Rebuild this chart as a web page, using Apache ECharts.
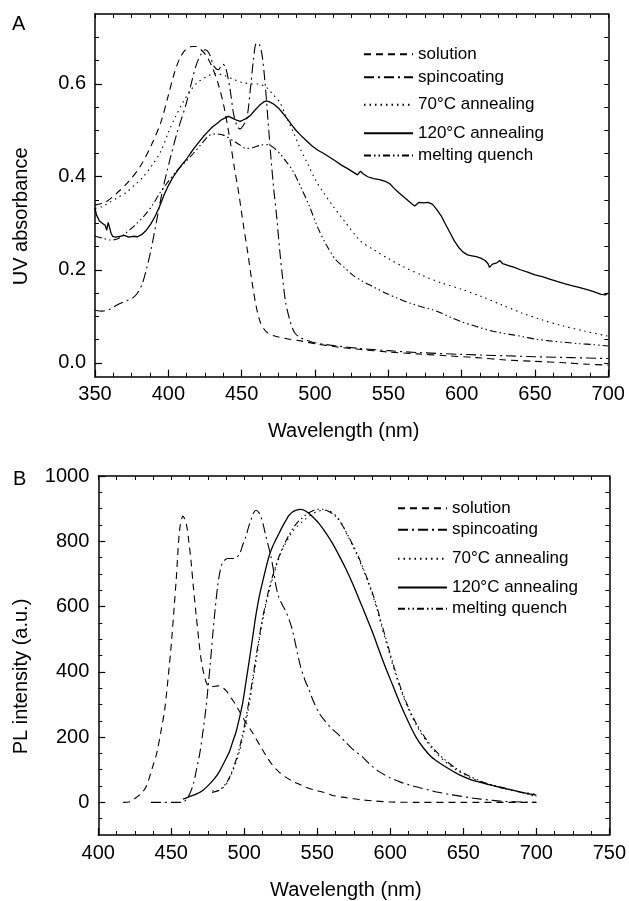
<!DOCTYPE html>
<html><head><meta charset="utf-8">
<script src="https://cdn.jsdelivr.net/npm/echarts@6/dist/echarts.min.js"></script>
<style>html,body{margin:0;padding:0;background:#fff}#c{width:629px;height:901px}</style>
</head><body><div id="c"></div>
<script>
// ---------- data ----------
const seriesNames = ['solution', 'spincoating', '70°C annealing', '120°C annealing', 'melting quench'];

// Panel A: UV absorbance [wavelength nm, absorbance]
const uvSolution = [[350,0.339],[357,0.345],[365,0.365],[373,0.390],[381,0.423],[389,0.472],[395,0.518],[400,0.575],[404,0.622],[408,0.656],[412,0.674],[416,0.680],[419,0.680],[422,0.674],[426,0.660],[430,0.635],[434,0.600],[438,0.550],[442,0.480],[445,0.420],[448,0.365],[451,0.300],[454,0.240],[457,0.175],[460,0.120],[463,0.085],[467,0.066],[472,0.058],[480,0.052],[490,0.047],[500,0.041],[515,0.034],[530,0.029],[550,0.023],[570,0.019],[590,0.015],[610,0.011],[630,0.006],[650,0.003],[670,0.000],[685,-0.003],[700,-0.005]];
const uvSpin = [[350,0.113],[355,0.111],[360,0.115],[365,0.124],[372,0.134],[376,0.140],[379,0.150],[382,0.168],[385,0.200],[388,0.240],[392,0.305],[396,0.370],[401,0.436],[406,0.495],[412,0.555],[416,0.605],[419,0.640],[422,0.662],[425,0.673],[428,0.664],[431,0.638],[434,0.630],[437,0.642],[439,0.636],[442,0.590],[444.5,0.535],[447,0.508],[449,0.503],[451,0.510],[453.5,0.525],[456,0.590],[458,0.650],[460,0.687],[462,0.685],[464,0.660],[466,0.600],[468,0.520],[470,0.440],[472,0.370],[474,0.310],[476,0.240],[478,0.180],[480,0.130],[483,0.090],[486,0.065],[490,0.054],[495,0.048],[500,0.043],[515,0.036],[530,0.031],[550,0.026],[570,0.022],[600,0.018],[630,0.015],[650,0.013],[675,0.011],[700,0.009]];
const uv70 = [[350,0.332],[355,0.336],[360,0.345],[366,0.356],[372,0.368],[378,0.385],[383,0.400],[389,0.425],[395,0.455],[400,0.495],[405,0.530],[410,0.560],[415,0.585],[420,0.603],[426,0.615],[432,0.622],[438,0.618],[444,0.610],[450,0.603],[456,0.600],[462,0.599],[467,0.592],[471,0.578],[476,0.560],[480,0.532],[485,0.498],[490,0.460],[495,0.428],[500,0.395],[506,0.365],[512.5,0.336],[520,0.305],[531,0.262],[540,0.243],[550,0.224],[560,0.207],[573,0.188],[586,0.172],[600,0.158],[613,0.143],[627,0.125],[641,0.107],[655,0.092],[668,0.080],[684,0.068],[700,0.057]];
const uv120 = [[350,0.332],[351,0.318],[353,0.305],[355,0.300],[357,0.295],[358,0.285],[359,0.302],[360,0.300],[361,0.278],[362,0.272],[364,0.270],[367,0.272],[370,0.274],[373,0.270],[376,0.272],[379,0.271],[382,0.276],[385,0.285],[388,0.298],[391,0.315],[394,0.336],[397,0.360],[400,0.381],[403,0.398],[406,0.412],[409,0.425],[412,0.436],[415,0.450],[418,0.463],[421,0.475],[424,0.487],[427,0.497],[430,0.507],[433,0.514],[436,0.522],[439,0.527],[441,0.530],[443,0.527],[445,0.524],[447,0.521],[449,0.519],[451,0.522],[453,0.525],[456,0.532],[459,0.543],[462,0.553],[465,0.561],[467,0.563],[469,0.561],[472,0.556],[475,0.548],[478,0.537],[481,0.525],[484,0.512],[487,0.500],[490,0.490],[494,0.478],[498,0.466],[502,0.457],[506,0.450],[510,0.442],[514,0.434],[518,0.425],[522,0.418],[526,0.410],[529,0.404],[531,0.412],[533,0.406],[536,0.400],[540,0.396],[544,0.394],[548,0.390],[551,0.385],[554,0.375],[557,0.366],[560,0.358],[563,0.350],[566,0.342],[568,0.337],[571,0.345],[574,0.344],[577,0.345],[580,0.341],[583,0.330],[586,0.316],[589,0.298],[592,0.280],[595,0.262],[598,0.248],[601,0.238],[604,0.232],[607,0.230],[610,0.228],[613,0.225],[616,0.220],[618,0.213],[619,0.205],[621,0.212],[624,0.215],[626,0.220],[628,0.213],[632,0.209],[636,0.205],[640,0.200],[645,0.195],[650,0.189],[655,0.185],[660,0.180],[665,0.175],[670,0.170],[675,0.166],[680,0.162],[685,0.158],[690,0.153],[695,0.147],[698,0.146],[700,0.150]];
const uvMelt = [[350,0.272],[355,0.268],[360,0.264],[365,0.266],[371,0.279],[377,0.295],[383,0.314],[389,0.338],[394,0.364],[400,0.390],[406,0.414],[412,0.433],[417,0.450],[423,0.472],[428,0.489],[433,0.492],[438,0.489],[444,0.478],[449,0.468],[453,0.461],[458,0.463],[463,0.468],[468,0.469],[472,0.462],[476,0.450],[481,0.430],[485,0.412],[490,0.380],[496,0.338],[502,0.290],[508,0.252],[514,0.222],[520,0.205],[526,0.188],[532,0.176],[540,0.163],[548,0.150],[556,0.139],[565,0.128],[573,0.120],[580,0.114],[586,0.107],[593,0.097],[600,0.088],[607,0.081],[613,0.075],[620,0.069],[627,0.064],[635,0.060],[642,0.056],[650,0.051],[660,0.047],[670,0.044],[680,0.041],[690,0.039],[700,0.036]];

// Panel B: PL intensity [wavelength nm, a.u.]
const plSolution = [[417,0],[422,2],[426,15],[430,30],[433,50],[437,106],[440,150],[443,220],[445.5,285],[448,390],[450,485],[452,600],[453.4,685],[455.7,835],[458,877],[460.2,855],[462,800],[463.6,735],[465,665],[467,575],[469,490],[470.5,435],[472.5,390],[475,358],[478,355],[482,357],[485,352],[488,340],[491,320],[494,300],[498,268],[501,245],[505,218],[508,195],[512,165],[516,135],[520,110],[524,92],[528,78],[533,65],[538,55],[542,47],[548,38],[555,30],[560,22],[567,16],[575,11],[580,8],[590,4],[600,1],[620,0],[650,0],[700,0]];
const plSpin = [[436,0],[445,0],[452,0],[458,0],[460,8],[462.5,25],[465,55],[467,95],[469.5,150],[471.6,215],[473.5,280],[475,345],[476.8,430],[478.4,515],[480,590],[481.8,665],[483.5,710],[485.2,735],[488.6,747],[493.2,747],[496.6,760],[499,790],[501.1,815],[503,845],[504.5,865],[506.5,888],[508,895],[510,888],[511.4,875],[513,850],[514.8,815],[516.5,785],[518.2,755],[520,710],[521.6,665],[523.5,630],[526.1,605],[528.5,585],[530.7,560],[532.5,535],[534.1,505],[536.5,455],[538.6,415],[541.5,375],[544.3,345],[547.5,308],[551.1,275],[555.5,248],[560.2,225],[565,205],[569.3,185],[575,160],[580.7,140],[586,117],[592,95],[600,75],[607,62],[614,52],[620,45],[627,37],[634,30],[641,24],[648,19],[655,14],[662,10],[670,6],[678,3],[690,1],[700,0]];
const pl70 = [[478,35],[483,37],[487.5,55],[490,75],[492,95],[494.5,125],[496.6,155],[499,200],[501.1,245],[503.5,305],[505.7,365],[508,430],[510.2,495],[512.5,555],[514.8,605],[517,648],[519.3,685],[521.6,720],[523.9,750],[526,773],[528.4,795],[530.7,813],[533,830],[536.5,847],[539.8,860],[543,872],[546.6,883],[550,891],[553.4,895],[556.5,895],[560.2,888],[563.5,875],[567,852],[570.5,820],[574,788],[577.5,755],[581,718],[584.5,678],[587.5,640],[591,590],[594,540],[598.5,470],[603.4,395],[608,335],[613,280],[618,235],[624,192],[630,158],[637,127],[645,100],[653,80],[662,63],[670,52],[680,40],[690,31],[700,25]];
const pl120 = [[458,10],[462,17],[467,25],[472,38],[476,55],[480,75],[483,95],[486.5,125],[489.8,155],[492,185],[494.3,215],[496.5,255],[498.9,305],[501,365],[503.4,435],[505.7,505],[508,575],[510.2,630],[512.5,675],[514.8,718],[517,755],[519.3,783],[521.6,805],[524,826],[526.1,845],[528.4,863],[530.7,880],[533,890],[535.2,895],[538.6,898],[541,895],[544.3,885],[547.5,872],[551.1,855],[555.5,828],[560.2,795],[564.5,760],[569.3,718],[574,672],[578.4,625],[583,575],[587.5,525],[592,470],[597,410],[602,355],[607,300],[612,250],[617.6,200],[623,165],[628,140],[634,120],[640,103],[647,85],[655,70],[661,62],[667,55],[675,46],[685,36],[692,29],[700,22]];
const plMelt = [[478,30],[483,38],[487.5,58],[490,78],[492,100],[494.5,132],[496.6,165],[499,212],[501.1,258],[503.5,318],[505.7,378],[508,445],[510.2,505],[512.5,565],[514.8,612],[517,655],[519.3,692],[521.6,725],[523.9,755],[526,778],[528.4,800],[530.7,820],[533,838],[536.5,858],[539.8,872],[543,884],[546.6,893],[550,898],[553.4,898],[556.5,894],[560.2,885],[563.5,872],[567,850],[570.5,822],[574,792],[577.5,760],[581,722],[584.5,682],[587.5,645],[591,596],[594,548],[598.5,478],[603.4,402],[608,340],[613,285],[618,240],[624,197],[630,163],[637,132],[645,104],[653,83],[662,65],[670,53],[680,42],[690,30],[700,18]];

// tick values / labels
const uvYLabels = [0.0, 0.2, 0.4, 0.6];
const uvYMinor = [0.0,0.05,0.1,0.15,0.2,0.25,0.3,0.35,0.4,0.45,0.5,0.55,0.6,0.65,0.7];
const plYLabels = [0, 200, 400, 600, 800, 1000];
const plYMinor = [-50,0,50,100,150,200,250,300,350,400,450,500,550,600,650,700,750,800,850,900,950];

// ---------- styles ----------
const FONT = '"Liberation Sans", Arial, Helvetica, sans-serif';
const dashTypes = [[7,5], [10,4,2,4], [1.5,4], 'solid', [7,3,1.5,3,1.5,3]];
const lineW = 1.1;
const black = '#000';

const uvData = [uvSolution, uvSpin, uv70, uv120, uvMelt];
const plData = [plSolution, plSpin, pl70, pl120, plMelt];

function axisLineStyle() { return { show: true, onZero: false, lineStyle: { color: black, width: 1.5 } }; }

const xAxes = [];
const yAxes = [];
function buildPanel(g, xr, yr, yLabels, yMinor, yFmt, yName, yGap) {
  xAxes.push({
    gridIndex: g, type: 'value', min: xr[0], max: xr[1], interval: 50, position: 'bottom',
    axisLine: axisLineStyle(),
    axisTick: { show: true, inside: true, length: 7, lineStyle: { color: black, width: 1.2 } },
    minorTick: { show: true, splitNumber: 4, length: 4, lineStyle: { color: black, width: 1 } },
    axisLabel: { color: black, fontSize: 20, margin: 8, fontFamily: FONT },
    splitLine: { show: false },
    name: 'Wavelength (nm)', nameLocation: 'middle', nameGap: 45,
    nameTextStyle: { color: black, fontSize: 20, fontFamily: FONT, padding: [0, 16, 0, 0] }
  });
  xAxes.push({
    gridIndex: g, type: 'value', min: xr[0], max: xr[1], interval: 50, position: 'top',
    axisLine: axisLineStyle(),
    axisTick: { show: true, inside: true, length: 4, lineStyle: { color: black, width: 1 } },
    minorTick: { show: true, splitNumber: 4, length: 4, lineStyle: { color: black, width: 1 } },
    axisLabel: { show: false }, splitLine: { show: false }
  });
  yAxes.push({
    gridIndex: g, type: 'value', min: yr[0], max: yr[1], position: 'left',
    axisLine: axisLineStyle(),
    axisTick: { show: true, inside: true, length: 7, customValues: yLabels, lineStyle: { color: black, width: 1.2 } },
    axisLabel: { color: black, fontSize: 20, margin: 9, fontFamily: FONT, customValues: yLabels, formatter: yFmt },
    splitLine: { show: false },
    name: yName, nameLocation: 'middle', nameGap: yGap,
    nameTextStyle: { color: black, fontSize: 20, fontFamily: FONT, padding: [0, 42, 0, 0] }
  });
  yAxes.push({
    gridIndex: g, type: 'value', min: yr[0], max: yr[1], position: 'left',
    axisLine: { show: false, onZero: false },
    axisTick: { show: true, inside: true, length: 4, customValues: yMinor, lineStyle: { color: black, width: 1 } },
    axisLabel: { show: false }, splitLine: { show: false }
  });
  yAxes.push({
    gridIndex: g, type: 'value', min: yr[0], max: yr[1], position: 'right',
    axisLine: axisLineStyle(),
    axisTick: { show: true, inside: true, length: 4, customValues: yMinor, lineStyle: { color: black, width: 1 } },
    axisLabel: { show: false }, splitLine: { show: false }
  });
}
buildPanel(0, [350, 700], [-0.03, 0.75], uvYLabels, uvYMinor, v => Number(v).toFixed(1), 'UV absorbance', 64);
buildPanel(1, [400, 750], [-100, 1000], plYLabels, plYMinor, v => String(Math.round(v)), 'PL intensity (a.u.)', 67);

const series = [];
seriesNames.forEach((name, i) => {
  series.push({
    name, type: 'line', xAxisIndex: 0, yAxisIndex: 0, data: uvData[i],
    symbol: 'none', smooth: i === 3 ? false : 0.3, clip: true,
    itemStyle: { color: black },
    lineStyle: { color: black, width: i === 3 ? 1.3 : lineW, type: dashTypes[i] }
  });
  series.push({
    name, type: 'line', xAxisIndex: 2, yAxisIndex: 3, data: plData[i],
    symbol: 'none', smooth: 0.3, clip: true,
    itemStyle: { color: black },
    lineStyle: { color: black, width: i === 3 ? 1.3 : lineW, type: dashTypes[i] }
  });
});

const legendA = [52.7, 75.7, 103.3, 131.7, 154];
const legendB = [506.7, 528.3, 557.3, 586, 607.3];
const legends = [];
seriesNames.forEach((name, i) => {
  [[363, legendA[i]], [397, legendB[i]]].forEach(([lx, ly]) => {
    legends.push({
      data: [name], left: lx, top: ly - 7, padding: 0, itemWidth: 49, itemHeight: 14,
      selectedMode: false,
      itemStyle: { opacity: 0 },
      textStyle: { color: black, fontSize: 17, fontFamily: FONT }
    });
  });
});

const chart = echarts.init(document.getElementById('c'), null, { renderer: 'canvas' });
chart.setOption({
  animation: false,
  backgroundColor: '#fff',
  title: [
    { text: 'A', left: 12, top: 14, padding: 0, textStyle: { fontSize: 20, fontWeight: 'normal', color: black, fontFamily: FONT } },
    { text: 'B', left: 13, top: 469, padding: 0, textStyle: { fontSize: 20, fontWeight: 'normal', color: black, fontFamily: FONT } }
  ],
  grid: [
    { left: 95, top: 14, width: 513.3, height: 362.7 },
    { left: 98.3, top: 476, width: 513.4, height: 365.7 }
  ],
  legend: legends,
  xAxis: xAxes,
  yAxis: yAxes,
  series
});
</script>
</body></html>
